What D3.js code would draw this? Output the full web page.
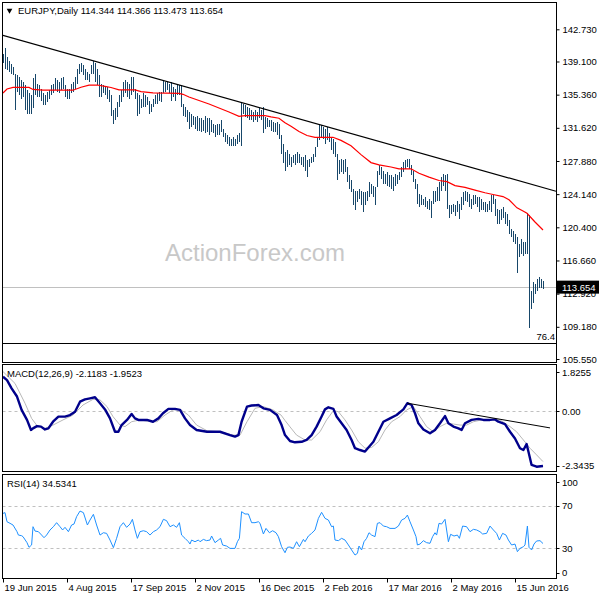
<!DOCTYPE html>
<html>
<head>
<meta charset="utf-8">
<script src="https://cdn.jsdelivr.net/npm/d3@7"></script>
<style>
  body { margin: 0; background: #fff; }
  svg { display: block; }
  text { font-family: "Liberation Sans", Arial, sans-serif; font-size: 9.5px; fill: #000; }
</style>
</head>
<body>
<svg id="chart" width="600" height="600"></svg>
<script>
const chartTitle = 'EURJPY,Daily  114.344 114.366 113.473 113.654';
const macdTitle = 'MACD(12,26,9) -2.1183 -1.9523';
const rsiTitle = 'RSI(14) 34.5341';
const watermark = 'ActionForex.com';

// daily highs / lows, one per bar (bar index 0 = 19 Jun 2015)
const highs = [
  140.0, 140.6, 139.6, 139.1, 138.8, 138.5, 137.7, 137.6, 137.4, 137.0,
  136.8, 136.4, 135.9, 135.5, 135.3, 137.2, 137.7, 136.6, 136.4, 136.05,
  135.5, 135.3, 135.7, 135.9, 136.4, 136.6, 137.2, 137.0, 136.8, 137.2,
  137.4, 136.4, 136.05, 136.05, 136.6, 136.8, 137.4, 138.3, 138.8, 138.9,
  138.7, 138.3, 137.9, 137.7, 138.7, 139.1, 138.9, 138.3, 137.6, 136.6,
  136.4, 136.2, 136.2, 135.9, 135.3, 133.6, 133.8, 134.5, 135.3, 135.9,
  136.8, 137.0, 136.8, 136.6, 137.4, 137.4, 136.05, 135.5, 135.3, 134.9,
  135.5, 135.3, 135.1, 134.7, 134.35, 134.9, 135.3, 135.5, 135.7, 135.7,
  137.0, 136.8, 136.8, 136.6, 136.8, 136.2, 136.05, 136.6, 136.4, 136.4,
  134.35, 134.0, 133.6, 133.4, 133.2, 133.0, 132.8, 133.0, 132.7, 132.7,
  132.5, 133.0, 132.7, 132.7, 132.5, 132.1, 131.9, 132.1, 132.1, 132.5,
  131.5, 131.0, 130.8, 130.6, 130.4, 130.6, 130.4, 130.8, 131.0, 134.5,
  134.35, 134.2, 134.0, 133.8, 133.6, 133.4, 133.6, 133.4, 133.8, 133.6,
  134.0, 132.8, 132.7, 132.5, 132.5, 132.3, 132.2, 132.3, 132.1, 130.8,
  129.8, 128.9, 129.1, 128.7, 128.3, 128.5, 128.7, 128.9, 128.7, 128.3,
  128.3, 128.5, 127.95, 128.1, 128.3, 128.7, 129.45, 130.6, 132.1, 131.9,
  131.7, 131.5, 131.7, 131.0, 130.6, 130.4, 130.0, 128.7, 127.95, 128.1,
  127.95, 128.1, 127.2, 126.25, 125.7, 124.7, 124.55, 124.55, 124.7, 124.55,
  124.4, 124.4, 124.55, 125.5, 125.3, 125.1, 124.9, 126.8, 127.4, 127.2,
  126.8, 126.4, 126.6, 126.25, 126.25, 126.1, 126.4, 126.25, 126.6, 127.2,
  127.8, 127.95, 128.1, 128.1, 127.4, 126.8, 125.9, 125.3, 124.2, 124.0,
  123.6, 123.8, 123.4, 123.6, 123.4, 124.55, 124.55, 124.9, 125.5, 126.1,
  126.4, 126.25, 126.4, 122.9, 122.9, 123.0, 122.9, 123.4, 123.0, 123.8,
  124.4, 124.55, 124.4, 124.2, 123.6, 124.0, 124.0, 123.8, 123.8, 123.6,
  123.2, 123.2, 123.0, 123.4, 124.0, 124.0, 123.6, 122.5, 122.3, 122.5,
  122.7, 122.1, 121.9, 121.2, 120.2, 120.0, 119.65, 119.3, 118.5, 119.1,
  118.7, 118.7, 122.0, 121.8, 113.24, 114.2, 114.0, 114.56, 114.75, 114.56,
  114.37
];
const lows = [
  138.9, 138.3, 138.1, 137.9, 137.7, 137.6, 133.6, 135.7, 135.3, 134.9,
  135.1, 133.6, 133.2, 133.2, 133.2, 133.8, 135.3, 135.1, 135.1, 134.7,
  134.2, 134.2, 134.5, 134.9, 135.3, 135.5, 135.9, 135.7, 135.5, 135.9,
  136.05, 135.1, 134.9, 134.9, 135.5, 135.7, 136.05, 136.6, 137.7, 137.9,
  137.6, 137.0, 137.0, 136.8, 137.7, 137.7, 136.8, 136.4, 135.1, 135.1,
  135.5, 135.3, 134.9, 134.5, 133.0, 132.1, 132.5, 132.8, 134.0, 134.5,
  135.1, 135.5, 135.1, 134.9, 135.3, 135.7, 134.9, 133.0, 133.2, 133.8,
  134.0, 134.0, 134.2, 133.2, 133.4, 134.0, 134.35, 134.35, 134.7, 134.5,
  135.5, 135.7, 135.9, 135.5, 134.7, 135.1, 134.7, 135.3, 135.3, 134.0,
  133.0, 132.8, 132.3, 131.5, 131.7, 131.9, 131.5, 131.3, 131.3, 131.15,
  131.3, 131.0, 131.15, 130.8, 131.15, 131.0, 130.6, 130.8, 130.8, 131.15,
  130.6, 130.0, 129.8, 129.6, 129.6, 129.6, 129.6, 129.8, 130.0, 129.6,
  133.2, 132.8, 132.7, 132.5, 132.5, 132.3, 132.5, 132.3, 132.7, 132.5,
  131.0, 131.5, 131.7, 131.7, 131.3, 131.15, 131.15, 130.8, 130.4, 128.7,
  127.6, 126.8, 127.2, 127.4, 127.2, 127.6, 127.4, 127.6, 127.6, 127.4,
  127.2, 126.8, 126.1, 127.2, 127.6, 127.8, 128.3, 129.45, 130.2, 130.6,
  130.4, 129.8, 130.2, 130.0, 129.1, 128.7, 128.3, 125.7, 126.4, 126.6,
  126.4, 126.6, 125.5, 124.7, 124.4, 122.9, 122.3, 123.2, 123.6, 122.9,
  122.1, 122.9, 123.4, 123.8, 124.2, 123.8, 122.9, 124.9, 126.25, 125.9,
  125.3, 125.3, 125.1, 124.9, 124.7, 124.55, 125.1, 125.3, 125.7, 126.1,
  126.6, 127.0, 127.2, 127.0, 126.25, 125.5, 124.7, 123.0, 122.7, 122.9,
  122.9, 122.7, 122.5, 122.3, 121.5, 123.0, 123.2, 123.4, 123.4, 124.55,
  125.1, 124.55, 122.5, 121.5, 121.9, 122.1, 121.7, 122.1, 121.35, 122.3,
  122.9, 123.4, 123.2, 122.7, 122.5, 122.9, 123.0, 122.7, 122.1, 122.3,
  122.3, 122.1, 122.1, 122.3, 122.1, 123.0, 121.7, 120.8, 120.8, 121.2,
  121.5, 120.8, 120.6, 119.65, 119.3, 118.7, 118.5, 115.3, 117.0, 117.4,
  117.2, 117.4, 117.4, 109.0, 111.17, 111.9, 112.9, 113.24, 113.6, 113.6,
  113.47
];

// moving average, read as [bar index, value]
const maPoints = [
  [0, 135.55], [2, 136.0], [5, 136.17], [13, 136.17], [15, 135.95], [20, 135.86], [35, 135.86],
  [39, 136.2], [43, 136.43], [47, 136.45], [51, 136.3], [54, 136.17], [58, 135.9], [66, 135.9],
  [69, 135.7], [75, 135.55], [88, 135.5], [90, 135.4], [93, 135.1], [98, 134.7], [103, 134.3],
  [108, 133.85], [113, 133.4], [118, 132.92], [121, 133.0], [131, 133.0], [134, 132.85], [138, 132.7],
  [141, 132.2], [144, 131.8], [148, 131.2], [152, 130.75], [156, 130.55], [165, 130.55], [169, 130.2],
  [174, 129.6], [179, 128.6], [184, 127.7], [188, 127.45], [194, 127.2], [198, 127.0], [204, 127.0],
  [208, 126.5], [213, 126.06], [218, 125.68], [222, 125.55], [226, 125.1], [231, 124.9], [236, 124.6],
  [241, 124.3], [245, 124.1], [250, 123.87], [253, 123.5], [257, 122.6], [260, 122.25], [262, 121.98],
  [266, 121.0], [270, 120.1]
];
const trendPoints = [[-0.5, 142.08], [276.5, 124.47]];
const lastPrice = 113.654;
const fibLevel = 107.3;
const fibLabel = '76.4';
const priceTicks = [142.73, 139.1, 135.36, 131.62, 127.88, 124.14, 120.4, 116.66, 112.92, 109.18, 105.55];

const macdPoints = [
  [0, 1.35], [2, 1.22], [4.3, 0.90], [7, 0.58], [9.3, 0.06], [12, -0.33], [14, -0.72], [15, -0.66],
  [17, -0.57], [19, -0.59], [21, -0.70], [22.7, -0.66], [25, -0.40], [27.7, -0.20], [31, -0.20],
  [33.5, -0.14], [36, -0.01], [38.5, 0.38], [41, 0.47], [43.5, 0.51], [46, 0.55], [48.5, 0.32],
  [51, 0.08], [53.5, -0.27], [56, -0.79], [57.7, -0.79], [59.3, -0.53], [62, -0.33], [64.3, -0.10],
  [66, -0.27], [67.7, -0.33], [72, -0.33], [75, -0.40], [77.7, -0.27], [80, -0.07], [82.7, 0.10],
  [86, 0.10], [88.5, 0.06], [91, -0.27], [93.5, -0.53], [96.8, -0.72], [102, -0.79], [108.5, -0.79],
  [113.5, -0.92], [116, -0.98], [117.7, -0.92], [119.3, -0.40], [122, 0.19], [124.3, 0.23],
  [127.7, 0.25], [130.2, 0.12], [133.5, 0.06], [137, -0.14], [139.3, -0.53], [141, -0.92],
  [143.5, -1.15], [146, -1.2], [149.3, -1.18], [151.8, -1.11], [154.3, -0.92], [156.8, -0.59],
  [159.3, -0.20], [161, 0.08], [162.7, 0.16], [165.2, 0.10], [166.8, -0.20], [169.3, -0.46],
  [171.8, -0.72], [174.3, -1.11], [176, -1.43], [178.5, -1.50], [181, -1.56], [182.7, -1.40],
  [185.2, -1.18], [187.7, -0.79], [190.2, -0.40], [193.5, -0.27], [196.8, -0.14], [200.2, 0.08],
  [202.2, 0.32], [204.3, 0.25], [206, -0.07], [207.7, -0.46], [210.2, -0.70], [213.5, -0.85],
  [216, -0.72], [218.5, -0.46], [221, -0.18], [222.7, -0.46], [225.2, -0.59], [227.7, -0.66],
  [229.3, -0.72], [231, -0.46], [234.3, -0.33], [237.7, -0.29], [240.2, -0.33], [243.5, -0.33],
  [246, -0.31], [247.7, -0.40], [251, -0.49], [253.5, -0.79], [256, -1.05], [258.5, -1.43],
  [260.2, -1.50], [261.8, -1.27], [262.7, -1.56], [264.3, -2.08], [266.8, -2.15], [270, -2.12]
];
const signalPoints = [
  [0, 1.55], [6, 1.09], [11, 0.32], [14.3, -0.27], [16.8, -0.53], [21, -0.66], [25, -0.53],
  [30, -0.33], [35, -0.14], [40, 0.25], [45, 0.47], [48.5, 0.45], [52, 0.19], [55, -0.20],
  [58.5, -0.53], [61, -0.59], [64.3, -0.40], [68.5, -0.33], [73.5, -0.40], [77, -0.40], [81, -0.14],
  [85, 0.06], [89, 0.06], [92.7, -0.14], [96.8, -0.53], [102, -0.75], [108.5, -0.79], [115, -0.92],
  [118.5, -0.92], [122, -0.40], [126, 0.12], [130, 0.19], [135, 0.06], [139, -0.14], [141, -0.35],
  [143.5, -0.6], [146.8, -0.92], [151, -1.11], [154.3, -1.11], [158.5, -0.79], [161.8, -0.33],
  [165.2, 0.03], [167.7, -0.01], [171, -0.33], [174.3, -0.72], [177.7, -1.18], [181, -1.43],
  [184.3, -1.40], [187.7, -1.18], [191, -0.72], [194.3, -0.40], [198.5, -0.20], [201.8, 0.06],
  [205.2, 0.19], [208.5, -0.20], [211.8, -0.59], [215.2, -0.79], [218.5, -0.59], [221.8, -0.46],
  [225.2, -0.49], [228.5, -0.53], [231.8, -0.53], [235.2, -0.40], [239.3, -0.33], [245.2, -0.31],
  [248.5, -0.33], [253.5, -0.59], [256.8, -0.79], [260.2, -1.11], [263.5, -1.43], [266.8, -1.69],
  [270, -1.95]
];
const macdTrend = [[202.2, 0.32], [273.5, -0.64]];
const macdTicks = [1.8255, 0, -2.3435];
const macdTickLabels = ['1.8255', '0.00', '-2.3435'];

const rsiPoints = [
  [0, 63], [1, 63.7], [2, 55.1], [3.5, 53.6], [5, 52], [7, 45.7], [7.7, 42.5], [9.3, 41.9], [10, 41],
  [12, 35.3], [13, 30.9], [14.3, 33.1], [15, 50.4], [16, 46.3], [17.7, 45.7], [19.3, 42.5], [20.5, 40],
  [21.8, 42.5], [23.5, 47.3], [25.2, 50.4], [26.8, 54.2], [28.5, 50.4], [29.8, 47.3], [31, 49.8],
  [32.7, 45.7], [34.3, 52], [35.5, 52.9], [36.8, 59.9], [38.5, 65.2], [40.2, 63.7], [42.2, 52],
  [43.5, 56.7], [45.2, 62.1], [46.8, 52], [48.5, 42.5], [50.2, 44.7], [51.8, 44.1], [53.5, 37.8],
  [55.2, 30.6], [56.8, 39.4], [58.5, 50.4], [60.2, 54.2], [61.8, 49.8], [63.5, 52.9], [64.7, 57.4],
  [66, 47.3], [67.2, 39.4], [68.5, 45.7], [70.2, 46.6], [71.8, 45.7], [73.5, 42.5], [75.2, 45.7],
  [76.8, 47.3], [78.5, 50.4], [80.2, 57.4], [81.8, 56.1], [83.5, 50.4], [85.2, 52], [86.8, 49.8],
  [88.2, 54.2], [89.3, 42.5], [91, 39.4], [92.7, 36.2], [93.5, 34], [94.3, 37.8], [96, 36.2],
  [97.7, 37.8], [98.5, 36.2], [100.2, 38.4], [101.8, 37.2], [103.5, 37.8], [104.3, 41.6], [106, 35.3],
  [107.7, 37.8], [108.8, 39.4], [109.8, 33.1], [111.8, 32.1], [113.5, 29.9], [116, 29.9], [117.2, 36.2],
  [118.2, 39.4], [119.3, 64.6], [121, 62.4], [122.7, 62.4], [124.3, 54.2], [126, 54.2], [127.7, 55.1],
  [128.5, 53.6], [130.2, 43.5], [131.5, 48.8], [133.2, 44.7], [134.8, 46.6], [136.5, 44.7], [137.7, 41],
  [139.3, 31.5], [141, 25.8], [142.2, 30.9], [143.5, 31.2], [145.2, 29.9], [146.8, 36.2], [148.2, 31.5],
  [150.2, 38.4], [151, 36.2], [152.7, 41.6], [154.3, 44.1], [156, 47.3], [157.7, 58.3], [159.3, 64],
  [161, 58.3], [162.7, 56.7], [164.3, 50.4], [165.2, 51], [166, 37.8], [167.7, 37.2], [169.3, 39.4],
  [171, 37.8], [172.7, 33.1], [174.3, 28.4], [176, 23.6], [177.2, 25.2], [178, 32.1], [179.3, 28.4],
  [180.5, 36.2], [181.8, 39.4], [183, 44.7], [184.3, 42.5], [186, 41], [187.2, 53.6], [188.5, 54.2],
  [190.2, 51], [191.8, 50.4], [193.5, 48.8], [196, 48.8], [197.7, 51], [199.3, 56.7], [201, 58.3],
  [202.2, 61.4], [203.5, 55.1], [205.2, 47.3], [206.5, 41], [207.2, 33.1], [208.5, 34], [210.2, 37.2],
  [211.8, 35.3], [213.5, 34.7], [214.8, 41], [216, 44.7], [216.8, 42.5], [218, 53.6], [219.3, 52.9],
  [221, 57.4], [222.7, 36.2], [223.8, 43.2], [225.5, 41.6], [227.2, 42.5], [228.2, 39.4], [229.8, 51],
  [231.8, 50.4], [233.5, 45.7], [235.2, 47.9], [236.8, 47.3], [238.5, 45.7], [239.8, 43.5],
  [241.8, 44.1], [243.5, 51], [245.2, 47.3], [246.8, 44.1], [248.2, 37.8], [249.8, 44.1], [251.5, 42.5],
  [252.7, 37.8], [254.3, 33.1], [256, 34], [257.2, 26.8], [258.5, 29.9], [260.2, 31.5], [261, 33.1],
  [262.2, 51], [263, 30.9], [264.3, 28.4], [265.5, 34], [266.8, 36.9], [268.5, 37.2], [270, 34.5]
];
const rsiLevels = [70, 30];
const rsiTicks = [100, 70, 30, 0];

const dateTicks = [0, 32, 64, 96, 128, 160, 192, 224, 256];
const dateLabels = ['19 Jun 2015', '4 Aug 2015', '17 Sep 2015', '2 Nov 2015', '16 Dec 2015',
  '2 Feb 2016', '17 Mar 2016', '2 May 2016', '15 Jun 2016'];

const svg = d3.select('#chart');
const left = 2.5;
const right = 556.5;
const panels = {
  main: { top: 2.5, bottom: 362.5 },
  macd: { top: 364.5, bottom: 471.5 },
  rsi: { top: 474.5, bottom: 578.5 },
};

const x = d3.scaleLinear().domain([-0.5, 276.5]).range([2, 556]);
const priceY = d3.scaleLinear().domain([105.55, 142.73]).range([359, 29.3]);
const macdY = d3.scaleLinear().domain([-2.3435, 1.8255]).range([471.7, 364.5]);
const rsiY = d3.scaleLinear().domain([0, 100]).range([580, 474.25]);

const defs = svg.append('defs');
Object.entries(panels).forEach(([key, p]) => {
  defs.append('clipPath').attr('id', `clip-${key}`)
    .append('rect')
    .attr('x', left).attr('y', p.top)
    .attr('width', right - left).attr('height', p.bottom - p.top);
});

// watermark
svg.append('text')
  .attr('x', 165).attr('y', 261)
  .style('font-size', '24px')
  .style('fill', '#c8c8c8')
  .text(watermark);

// ---- main price panel ----
const main = svg.append('g').attr('clip-path', 'url(#clip-main)');

main.append('line')
  .attr('x1', left).attr('x2', right)
  .attr('y1', Math.round(priceY(lastPrice)) + 0.5).attr('y2', Math.round(priceY(lastPrice)) + 0.5)
  .attr('stroke', '#c0c0c0');

main.append('line')
  .attr('x1', left).attr('x2', right)
  .attr('y1', Math.round(priceY(fibLevel)) + 0.5).attr('y2', Math.round(priceY(fibLevel)) + 0.5)
  .attr('stroke', '#000');

main.selectAll('line.bar')
  .data(highs)
  .enter().append('line')
  .attr('class', 'bar')
  .attr('x1', (d, i) => Math.round(x(i)) + 0.5)
  .attr('x2', (d, i) => Math.round(x(i)) + 0.5)
  .attr('y1', d => priceY(d))
  .attr('y2', (d, i) => priceY(lows[i]))
  .attr('stroke', '#17476a')
  .attr('stroke-width', 1)
  .attr('shape-rendering', 'crispEdges');

const priceLine = d3.line().x(d => x(d[0])).y(d => priceY(d[1]));

main.append('path')
  .datum(maPoints)
  .attr('d', priceLine)
  .attr('fill', 'none')
  .attr('stroke', '#ff0000')
  .attr('stroke-width', 1.2);

main.append('path')
  .datum(trendPoints)
  .attr('d', priceLine)
  .attr('fill', 'none')
  .attr('stroke', '#000')
  .attr('stroke-width', 1.2);

svg.append('text')
  .attr('x', 555).attr('y', priceY(fibLevel) - 3)
  .attr('text-anchor', 'end')
  .text(fibLabel);

// title
svg.append('path')
  .attr('d', d3.symbol(d3.symbolTriangle).size(14)())
  .attr('transform', 'translate(9.5,10.5) rotate(180)')
  .attr('fill', '#000');
svg.append('text').attr('x', 18).attr('y', 14).text(chartTitle);

// price axis
const priceAxis = svg.append('g')
  .attr('transform', `translate(${right},0)`)
  .call(d3.axisRight(priceY).tickValues(priceTicks).tickFormat(d3.format('.3f')).tickSize(3).tickPadding(3));
priceAxis.select('.domain').remove();
priceAxis.selectAll('text')
  .style('font-family', '"Liberation Sans", Arial, sans-serif')
  .style('font-size', '9.5px');

// last price marker
const lastY = priceY(lastPrice);
svg.append('rect')
  .attr('x', 557).attr('y', lastY - 6.5)
  .attr('width', 42).attr('height', 13)
  .attr('fill', '#000');
svg.append('text')
  .attr('x', 562).attr('y', lastY + 3.5)
  .style('fill', '#fff')
  .text(d3.format('.3f')(lastPrice));

// ---- MACD panel ----
const macd = svg.append('g').attr('clip-path', 'url(#clip-macd)');
macd.append('line')
  .attr('x1', left).attr('x2', right)
  .attr('y1', Math.round(macdY(0)) + 0.5).attr('y2', Math.round(macdY(0)) + 0.5)
  .attr('stroke', '#c0c0c0')
  .attr('stroke-dasharray', '3,3');

const macdLine = d3.line().x(d => x(d[0])).y(d => macdY(d[1]));
macd.append('path')
  .datum(signalPoints)
  .attr('d', macdLine)
  .attr('fill', 'none')
  .attr('stroke', '#b8b8b8')
  .attr('stroke-width', 1);
macd.append('path')
  .datum(macdPoints)
  .attr('d', macdLine)
  .attr('fill', 'none')
  .attr('stroke', '#00008b')
  .attr('stroke-width', 2.4)
  .attr('stroke-linejoin', 'round');
macd.append('path')
  .datum(macdTrend)
  .attr('d', macdLine)
  .attr('fill', 'none')
  .attr('stroke', '#000')
  .attr('stroke-width', 1);

svg.append('text').attr('x', 7).attr('y', 377).text(macdTitle);

// ---- RSI panel ----
const rsi = svg.append('g').attr('clip-path', 'url(#clip-rsi)');
rsi.selectAll('line.level')
  .data(rsiLevels)
  .enter().append('line')
  .attr('class', 'level')
  .attr('x1', left).attr('x2', right)
  .attr('y1', d => Math.round(rsiY(d)) + 0.5).attr('y2', d => Math.round(rsiY(d)) + 0.5)
  .attr('stroke', '#c0c0c0')
  .attr('stroke-dasharray', '3,3');
rsi.append('path')
  .datum(rsiPoints)
  .attr('d', d3.line().x(d => x(d[0])).y(d => rsiY(d[1])))
  .attr('fill', 'none')
  .attr('stroke', '#1e90ff')
  .attr('stroke-width', 1);

svg.append('text').attr('x', 7).attr('y', 487).text(rsiTitle);

// sub-window scale labels sit inside the window edges, as in the terminal
function subLabels(values, labels, scale, p) {
  values.forEach((v, i) => {
    const y = Math.max(p.top + 7.7, Math.min(p.bottom - 5.8, scale(v)));
    svg.append('line')
      .attr('x1', right).attr('x2', right + 3)
      .attr('y1', Math.round(y) + 0.5).attr('y2', Math.round(y) + 0.5)
      .attr('stroke', '#000');
    svg.append('text')
      .attr('x', 562).attr('y', y)
      .attr('dy', '0.35em')
      .text(labels[i]);
  });
}
subLabels(macdTicks, macdTickLabels, macdY, panels.macd);
subLabels(rsiTicks, rsiTicks.map(String), rsiY, panels.rsi);

// ---- frames ----
Object.values(panels).forEach((p) => {
  svg.append('rect')
    .attr('x', left).attr('y', p.top)
    .attr('width', right - left).attr('height', p.bottom - p.top)
    .attr('fill', 'none')
    .attr('stroke', '#000');
});

// date axis
const dateAxis = svg.append('g')
  .attr('transform', `translate(0,${panels.rsi.bottom})`)
  .call(d3.axisBottom(x).tickValues(dateTicks).tickFormat((d, i) => dateLabels[i]).tickSize(4).tickPadding(2));
dateAxis.select('.domain').remove();
dateAxis.selectAll('text')
  .attr('text-anchor', 'start')
  .attr('dx', 1)
  .style('font-family', '"Liberation Sans", Arial, sans-serif')
  .style('font-size', '9.5px');
</script>
</body>
</html>
